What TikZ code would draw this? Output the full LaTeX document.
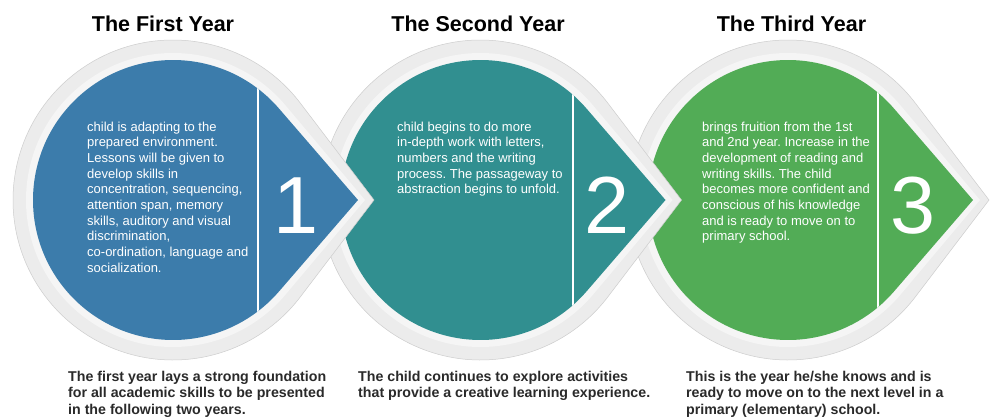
\documentclass[tikz,border=0pt]{standalone}
\usepackage{fontspec}
\setmainfont{Liberation Sans}
\frenchspacing
\definecolor{cblue}{HTML}{3C7CAB}
\definecolor{cteal}{HTML}{318F90}
\definecolor{cgreen}{HTML}{52AC56}
\definecolor{haloout}{HTML}{ECECEC}
\definecolor{haloin}{HTML}{F5F5F5}
\definecolor{haloedge}{HTML}{CDCDCD}
\definecolor{captxt}{HTML}{2A2A2A}
% leaf path: #1 cx, #2 cy, #3 radius, #4 tip distance, #5 tangent angle acos(#3/#4)
\newcommand{\leafp}[5]{(#1+#4,#2) -- ([shift={(#1,#2)}]-#5:#3) arc[start angle=-#5, end angle=#5-360, radius=#3] -- cycle}
\newcommand{\yearleaf}[3]{% #1 cx, #2 colour, #3 divider x
  \fill[haloout, draw=haloedge, line width=0.5pt] \leafp{#1}{200}{160}{201}{37.25};
  \fill[haloin] \leafp{#1}{200}{147}{192}{40.05};
  \fill[#2] \leafp{#1}{200}{140}{185}{40.82};
  \begin{scope}
    \clip \leafp{#1}{200}{140}{185}{40.82};
    \draw[white, line width=2pt] (#3,40) -- (#3,360);
  \end{scope}
}
\tikzset{
  title/.style={anchor=base, inner sep=0pt, font=\fontsize{21.5}{26}\selectfont\bfseries, text=black},
  bodytxt/.style={anchor=base west, inner sep=0pt, align=left, text=white, font=\fontsize{13}{15.7}\selectfont\frenchspacing},
  bignum/.style={anchor=base, inner sep=0pt, text=white, font=\fontsize{81}{90}\selectfont},
  caption/.style={anchor=base west, inner sep=0pt, align=left, text=captxt, font=\fontsize{14.2}{16.7}\selectfont\bfseries\frenchspacing}
}
\begin{document}
\begin{tikzpicture}[x=1pt, y=-1pt]
\useasboundingbox (0,0) rectangle (990,416);
\fill[white] (0,0) rectangle (990,416);

% third year (drawn first, lies behind)
\yearleaf{788}{cgreen}{878}
\node[bignum] (n3) at (913,233) {3};
% base anchor = baseline of last line: 131 + (lines-1)*15.7
\node[bodytxt] (b3) at (702,240.9) {brings fruition from the 1st\\and 2nd year. Increase in the\\development of reading and\\writing skills. The child\\becomes more confident and\\conscious of his knowledge\\and is ready to move on to\\primary school.};

% second year
\yearleaf{480.5}{cteal}{573}
\node[bignum] (n2) at (607,233) {2};
\node[bodytxt] (b2) at (397,193.8) {child begins to do more\\in-depth work with letters,\\numbers and the writing\\process. The passageway to\\abstraction begins to unfold.};

% first year
\yearleaf{173}{cblue}{258}
\node[bignum] (n1) at (296.5,233) {1};
\node[bodytxt] (b1) at (87,272.3) {child is adapting to the\\prepared environment.\\Lessons will be given to\\develop skills in\\concentration, sequencing,\\attention span, memory\\skills, auditory and visual\\discrimination,\\co-ordination, language and\\socialization.};

% titles
\node[title] (t1) at (163,31.5) {The First Year};
\node[title] (t2) at (478,31.5) {The Second Year};
\node[title] (t3) at (791.5,31.5) {The Third Year};

% captions (base = last line)
\node[caption] (c1) at (68,414.4) {The first year lays a strong foundation\\for all academic skills to be presented\\in the following two years.};
\node[caption] (c2) at (358,397.7) {The child continues to explore activities\\that provide a creative learning experience.};
\node[caption] (c3) at (686,414.4) {This is the year he/she knows and is\\ready to move on to the next level in a\\primary (elementary) school.};
\end{tikzpicture}
\end{document}
